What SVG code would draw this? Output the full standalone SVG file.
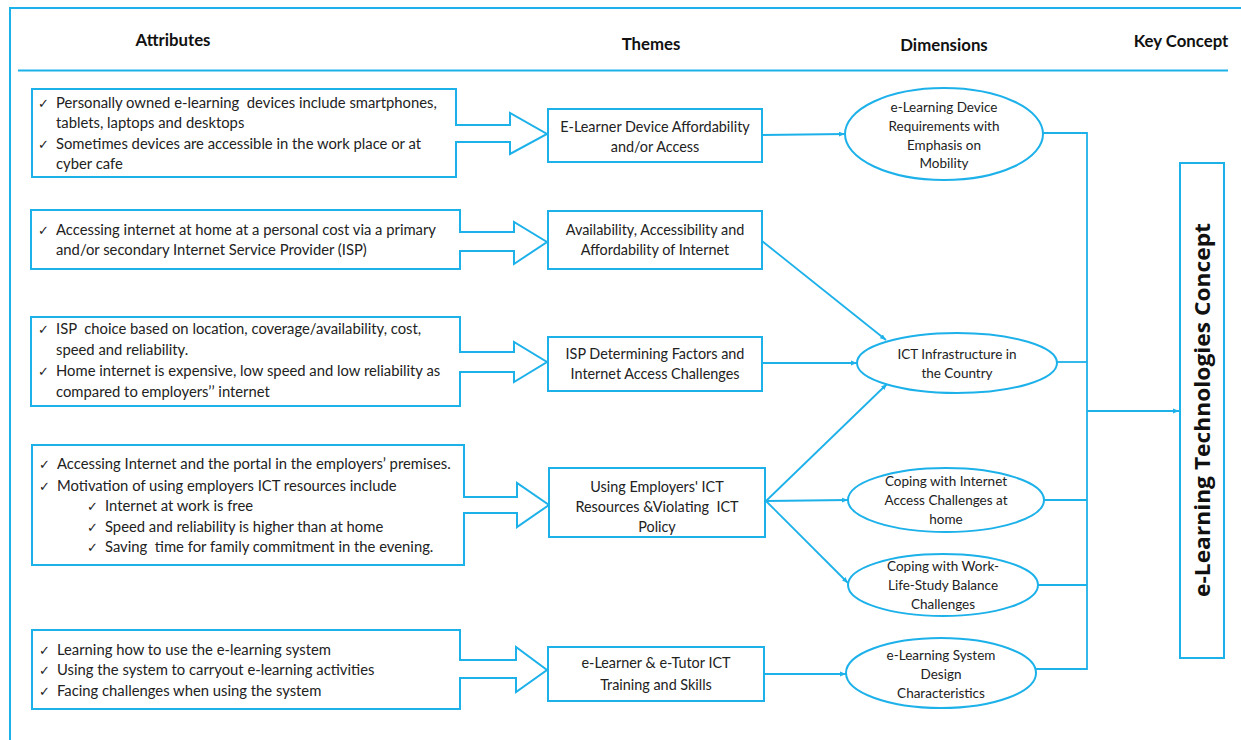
<svg xmlns="http://www.w3.org/2000/svg" width="1241" height="740" viewBox="0 0 1241 740">
  <defs>
    <style>
      .frame { fill: none; stroke: #1db1ea; stroke-width: 2; }
      .box { fill: #ffffff; stroke: #1db1ea; stroke-width: 2; }
      .conn { fill: none; stroke: #1db1ea; stroke-width: 1.8; }
      .hdr { font-family: Lato, "Liberation Sans", sans-serif; font-weight: bold; font-size: 16.8px; fill: #111; text-anchor: middle; }
      .txt { font-family: Lato, "Liberation Sans", sans-serif; font-size: 14.8px; fill: #222; }
      .ctr { font-family: Lato, "Liberation Sans", sans-serif; font-size: 14.4px; fill: #222; text-anchor: middle; }
      .sm { font-family: Lato, "Liberation Sans", sans-serif; font-size: 13.5px; fill: #222; text-anchor: middle; }
      .chk { font-family: "DejaVu Sans", sans-serif; font-size: 13px; fill: #222; }
      .key { font-family: "Open Sans", "DejaVu Sans", sans-serif; font-weight: bold; font-size: 21px; fill: #111; text-anchor: middle; }
    </style>
    <marker id="arr" viewBox="0 0 10 10" refX="10" refY="5" markerWidth="6" markerHeight="6" orient="auto" markerUnits="userSpaceOnUse">
      <path d="M0,1 L10,5 L0,9 z" fill="#1db1ea"/>
    </marker>
  </defs>

  <rect width="1241" height="740" fill="#ffffff"/>

  <!-- outer frame and header rule -->
  <path class="frame" d="M10,740 V8 H1241"/>
  <line class="frame" x1="18" y1="70.5" x2="1228" y2="70.5"/>

  <!-- column headings -->
  <g id="headings">
    <text class="hdr" x="173" y="46">Attributes</text>
    <text class="hdr" x="651" y="50">Themes</text>
    <text class="hdr" x="944" y="51">Dimensions</text>
    <text class="hdr" x="1181" y="47">Key Concept</text>
  </g>

  <!-- attribute boxes (outline merged with their block arrows) -->
  <g id="attr-devices">
    <path class="box" d="M32,89 H456 V125 H510 V113 L547,134 L510,154 V142 H456 V177 H32 Z"/>
    <text class="chk" x="38" y="108">✓</text>
    <text class="txt" x="56" y="108" xml:space="preserve">Personally owned e-learning  devices include smartphones,</text>
    <text class="txt" x="56" y="128">tablets, laptops and desktops</text>
    <text class="chk" x="38" y="149">✓</text>
    <text class="txt" x="56" y="149">Sometimes devices are accessible in the work place or at</text>
    <text class="txt" x="56" y="169">cyber cafe</text>
  </g>

  <g id="attr-home-internet">
    <path class="box" d="M31,210 H460 V232 H514 V222 L547,242 L514,264 V251 H460 V269 H31 Z"/>
    <text class="chk" x="38" y="235">✓</text>
    <text class="txt" x="56" y="235">Accessing internet at home at a personal cost via a primary</text>
    <text class="txt" x="56" y="255">and/or secondary Internet Service Provider (ISP)</text>
  </g>

  <g id="attr-isp">
    <path class="box" d="M31,317 H460 V352 H514 V342 L547,362 L514,382 V372 H460 V406 H31 Z"/>
    <text class="chk" x="38" y="334">✓</text>
    <text class="txt" x="56" y="334" xml:space="preserve">ISP  choice based on location, coverage/availability, cost,</text>
    <text class="txt" x="56" y="355">speed and reliability.</text>
    <text class="chk" x="38" y="376">✓</text>
    <text class="txt" x="56" y="376">Home internet is expensive, low speed and low reliability as</text>
    <text class="txt" x="56" y="397">compared to employers’’ internet</text>
  </g>

  <g id="attr-employer">
    <path class="box" d="M32,445 H464 V497 H517 V483 L549,505 L517,527 V513 H464 V565 H32 Z"/>
    <text class="chk" x="39" y="469">✓</text>
    <text class="txt" x="57" y="469">Accessing Internet and the portal in the employers’ premises.</text>
    <text class="chk" x="39" y="491">✓</text>
    <text class="txt" x="57" y="491">Motivation of using employers ICT resources include</text>
    <text class="chk" x="87" y="511">✓</text>
    <text class="txt" x="105" y="511">Internet at work is free</text>
    <text class="chk" x="87" y="532">✓</text>
    <text class="txt" x="105" y="532">Speed and reliability is higher than at home</text>
    <text class="chk" x="87" y="552">✓</text>
    <text class="txt" x="105" y="552" xml:space="preserve">Saving  time for family commitment in the evening.</text>
  </g>

  <g id="attr-system">
    <path class="box" d="M32,630 H460 V660 H516 V647 L547,670 L516,692 V678 H460 V709 H32 Z"/>
    <text class="chk" x="39" y="655">✓</text>
    <text class="txt" x="57" y="655">Learning how to use the e-learning system</text>
    <text class="chk" x="39" y="675">✓</text>
    <text class="txt" x="57" y="675">Using the system to carryout e-learning activities</text>
    <text class="chk" x="39" y="696">✓</text>
    <text class="txt" x="57" y="696">Facing challenges when using the system</text>
  </g>

  <!-- themes -->
  <g id="theme-device">
    <rect class="box" x="548" y="109" width="214" height="53"/>
    <text class="ctr" x="655" y="132">E-Learner Device Affordability</text>
    <text class="ctr" x="655" y="152">and/or Access</text>
  </g>
  <g id="theme-internet">
    <rect class="box" x="548" y="211" width="214" height="58"/>
    <text class="ctr" x="655" y="235">Availability, Accessibility and</text>
    <text class="ctr" x="655" y="255">Affordability of Internet</text>
  </g>
  <g id="theme-isp">
    <rect class="box" x="548" y="337" width="214" height="54"/>
    <text class="ctr" x="655" y="359">ISP Determining Factors and</text>
    <text class="ctr" x="655" y="379">Internet Access Challenges</text>
  </g>
  <g id="theme-employer">
    <rect class="box" x="549" y="468" width="216" height="69"/>
    <text class="ctr" x="657" y="492">Using Employers' ICT</text>
    <text class="ctr" x="657" y="512" xml:space="preserve">Resources &amp;Violating  ICT</text>
    <text class="ctr" x="657" y="532">Policy</text>
  </g>
  <g id="theme-training">
    <rect class="box" x="548" y="647" width="216" height="54"/>
    <text class="ctr" x="656" y="668">e-Learner &amp; e-Tutor ICT</text>
    <text class="ctr" x="656" y="690">Training and Skills</text>
  </g>

  <!-- dimensions -->
  <g id="dim-device">
    <ellipse class="box" cx="944" cy="134" rx="99" ry="46"/>
    <text class="sm" x="944" y="112">e-Learning Device</text>
    <text class="sm" x="944" y="131">Requirements with</text>
    <text class="sm" x="944" y="150">Emphasis on</text>
    <text class="sm" x="944" y="168">Mobility</text>
  </g>
  <g id="dim-ict">
    <ellipse class="box" cx="957" cy="363" rx="100" ry="30"/>
    <text class="sm" x="957" y="359">ICT Infrastructure in</text>
    <text class="sm" x="957" y="378">the Country</text>
  </g>
  <g id="dim-coping-internet">
    <ellipse class="box" cx="946" cy="500" rx="98" ry="32"/>
    <text class="sm" x="946" y="486">Coping with Internet</text>
    <text class="sm" x="946" y="505">Access Challenges at</text>
    <text class="sm" x="946" y="524">home</text>
  </g>
  <g id="dim-coping-balance">
    <ellipse class="box" cx="943" cy="585" rx="95" ry="31"/>
    <text class="sm" x="943" y="571">Coping with Work-</text>
    <text class="sm" x="943" y="590">Life-Study Balance</text>
    <text class="sm" x="943" y="609">Challenges</text>
  </g>
  <g id="dim-system">
    <ellipse class="box" cx="941" cy="673" rx="95" ry="35"/>
    <text class="sm" x="941" y="660">e-Learning System</text>
    <text class="sm" x="941" y="679">Design</text>
    <text class="sm" x="941" y="698">Characteristics</text>
  </g>

  <!-- key concept -->
  <g id="key-concept">
    <rect class="box" x="1180" y="163" width="44" height="495"/>
    <text class="key" transform="translate(1210,410) rotate(-90)" textLength="374" lengthAdjust="spacingAndGlyphs">e-Learning Technologies Concept</text>
  </g>

  <!-- connectors -->
  <g id="connectors">
    <line class="conn" x1="762" y1="135" x2="845" y2="134" marker-end="url(#arr)"/>
    <line class="conn" x1="762" y1="241" x2="886" y2="340" marker-end="url(#arr)"/>
    <line class="conn" x1="762" y1="363" x2="857" y2="363" marker-end="url(#arr)"/>
    <line class="conn" x1="766" y1="501" x2="887" y2="384" marker-end="url(#arr)"/>
    <line class="conn" x1="766" y1="501" x2="848" y2="500" marker-end="url(#arr)"/>
    <line class="conn" x1="766" y1="501" x2="848" y2="583" marker-end="url(#arr)"/>
    <line class="conn" x1="764" y1="674" x2="846" y2="674" marker-end="url(#arr)"/>

    <path class="conn" d="M1043,133 H1087 V669 H1036"/>
    <line class="conn" x1="1057" y1="362" x2="1087" y2="362"/>
    <line class="conn" x1="1044" y1="500" x2="1087" y2="500"/>
    <line class="conn" x1="1038" y1="585" x2="1087" y2="585"/>
    <line class="conn" x1="1087" y1="411" x2="1179" y2="411" marker-end="url(#arr)"/>
  </g>
</svg>
